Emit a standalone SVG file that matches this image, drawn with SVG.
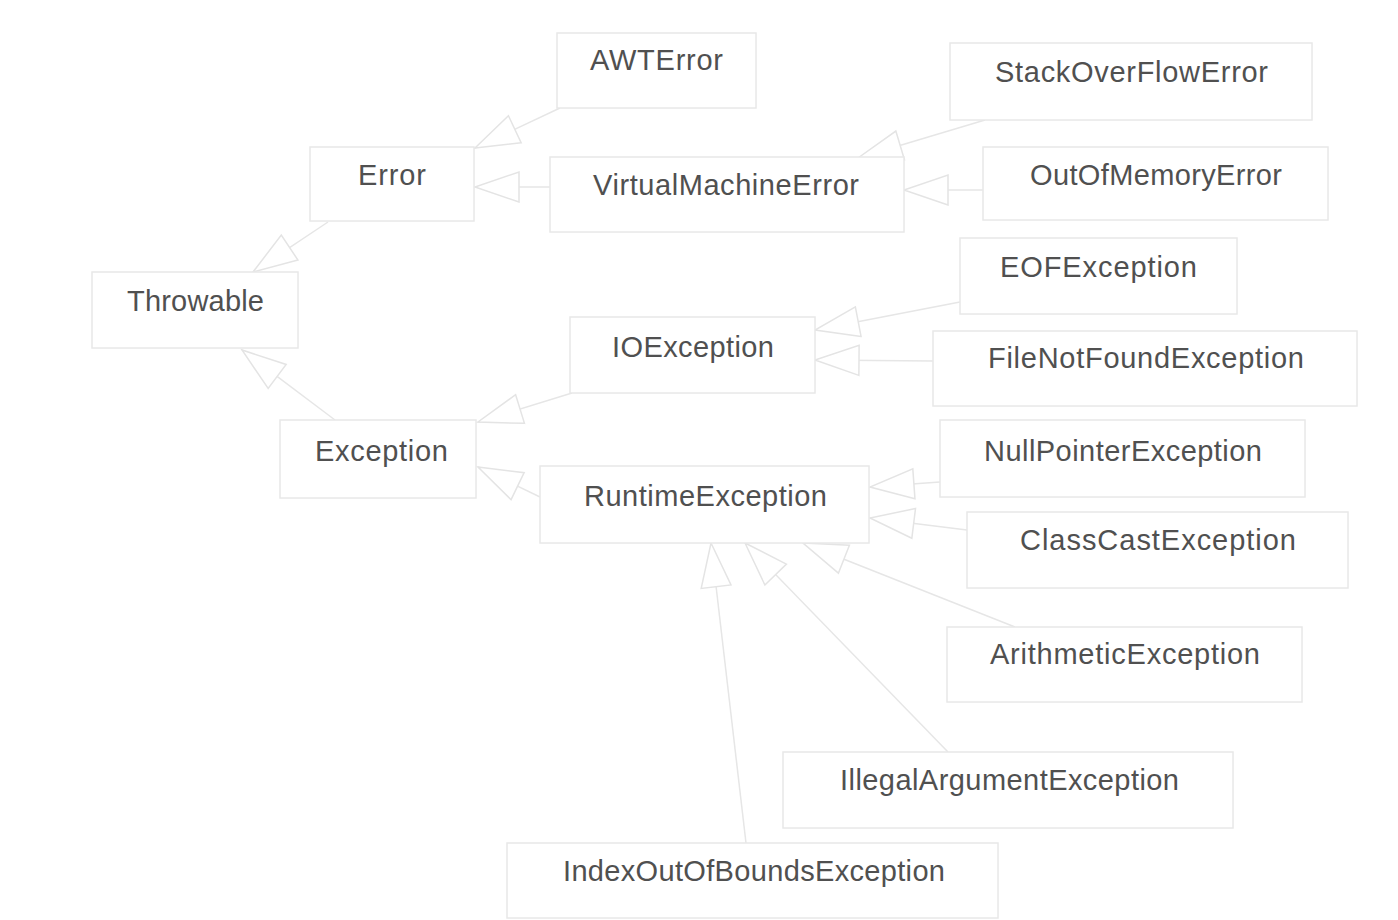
<svg xmlns="http://www.w3.org/2000/svg" width="1398" height="920" viewBox="0 0 1398 920">
<style>
.box{fill:#ffffff;stroke:#e8e8e8;stroke-width:1.5}
.lbl{font-family:"Liberation Sans",Arial,sans-serif;font-size:29px;fill:#505050;lengthAdjust:spacingAndGlyphs}
.con{fill:none;stroke:#e6e6e6;stroke-width:1.5}
</style>
<defs>
<marker id="tri" markerUnits="userSpaceOnUse" markerWidth="50" markerHeight="36" refX="46" refY="17" orient="auto">
<path d="M2,2 L46,17 L2,32 Z" fill="#ffffff" stroke="#e4e4e4" stroke-width="1.5"/>
</marker>
</defs>
<rect width="1398" height="920" fill="#ffffff"/>
<g id="connectors">
<line class="con" x1="328" y1="222" x2="253" y2="272" marker-end="url(#tri)"/>
<line class="con" x1="335" y1="420" x2="242" y2="350" marker-end="url(#tri)"/>
<line class="con" x1="560" y1="108" x2="475" y2="148" marker-end="url(#tri)"/>
<line class="con" x1="550" y1="187" x2="475" y2="187" marker-end="url(#tri)"/>
<line class="con" x1="985" y1="120" x2="858" y2="158" marker-end="url(#tri)"/>
<line class="con" x1="983" y1="190" x2="904" y2="190" marker-end="url(#tri)"/>
<line class="con" x1="960" y1="302" x2="815" y2="330" marker-end="url(#tri)"/>
<line class="con" x1="933" y1="361" x2="815" y2="360" marker-end="url(#tri)"/>
<line class="con" x1="572" y1="393" x2="478" y2="422" marker-end="url(#tri)"/>
<line class="con" x1="540" y1="497" x2="478" y2="467" marker-end="url(#tri)"/>
<line class="con" x1="940" y1="482" x2="870" y2="487" marker-end="url(#tri)"/>
<line class="con" x1="967" y1="530" x2="870" y2="518" marker-end="url(#tri)"/>
<line class="con" x1="1015" y1="627" x2="803" y2="543" marker-end="url(#tri)"/>
<line class="con" x1="948" y1="752" x2="745" y2="543" marker-end="url(#tri)"/>
<line class="con" x1="746" y1="843" x2="711" y2="543" marker-end="url(#tri)"/>
</g>
<g id="AWTError"><rect class="box" x="557" y="33" width="199" height="75"/><text class="lbl" x="590" y="70" textLength="133">AWTError</text></g>
<g id="StackOverFlowError"><rect class="box" x="950" y="43" width="362" height="77"/><text class="lbl" x="995" y="82" textLength="273">StackOverFlowError</text></g>
<g id="Error"><rect class="box" x="310" y="147" width="164" height="74"/><text class="lbl" x="358" y="185" textLength="68">Error</text></g>
<g id="VirtualMachineError"><rect class="box" x="550" y="157" width="354" height="75"/><text class="lbl" x="593" y="195" textLength="266">VirtualMachineError</text></g>
<g id="OutOfMemoryError"><rect class="box" x="983" y="147" width="345" height="73"/><text class="lbl" x="1030" y="185" textLength="252">OutOfMemoryError</text></g>
<g id="EOFException"><rect class="box" x="960" y="238" width="277" height="76"/><text class="lbl" x="1000" y="277" textLength="197">EOFException</text></g>
<g id="Throwable"><rect class="box" x="92" y="272" width="206" height="76"/><text class="lbl" x="127" y="311" textLength="137">Throwable</text></g>
<g id="IOException"><rect class="box" x="570" y="317" width="245" height="76"/><text class="lbl" x="612" y="357" textLength="162">IOException</text></g>
<g id="FileNotFoundException"><rect class="box" x="933" y="331" width="424" height="75"/><text class="lbl" x="988" y="368" textLength="316">FileNotFoundException</text></g>
<g id="Exception"><rect class="box" x="280" y="420" width="196" height="78"/><text class="lbl" x="315" y="461" textLength="133">Exception</text></g>
<g id="NullPointerException"><rect class="box" x="940" y="420" width="365" height="77"/><text class="lbl" x="984" y="461" textLength="278">NullPointerException</text></g>
<g id="RuntimeException"><rect class="box" x="540" y="466" width="329" height="77"/><text class="lbl" x="584" y="506" textLength="243">RuntimeException</text></g>
<g id="ClassCastException"><rect class="box" x="967" y="512" width="381" height="76"/><text class="lbl" x="1020" y="550" textLength="276">ClassCastException</text></g>
<g id="ArithmeticException"><rect class="box" x="947" y="627" width="355" height="75"/><text class="lbl" x="990" y="664" textLength="270">ArithmeticException</text></g>
<g id="IllegalArgumentException"><rect class="box" x="783" y="752" width="450" height="76"/><text class="lbl" x="840" y="790" textLength="339">IllegalArgumentException</text></g>
<g id="IndexOutOfBoundsException"><rect class="box" x="507" y="843" width="491" height="75"/><text class="lbl" x="563" y="881" textLength="382">IndexOutOfBoundsException</text></g>
</svg>
